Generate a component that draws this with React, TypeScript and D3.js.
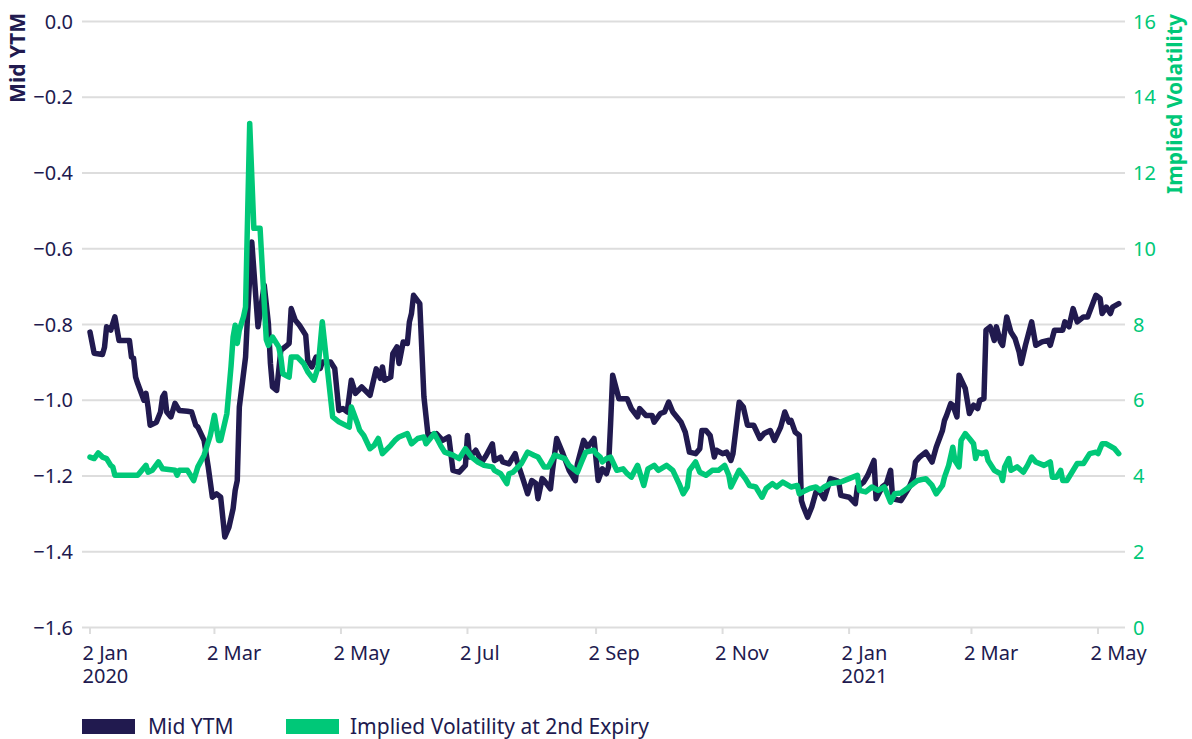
import React from 'react'
import * as d3 from 'd3'

// dates are kept as day counts from 2 Jan 2020
const START = new Date(2020, 0, 2)

const ytmDays = [
  0, 2, 6, 7, 8, 10, 12, 14, 19, 20, 21, 22, 23, 26, 27, 28, 29, 32, 34, 35, 36, 37, 39, 41, 43, 47, 49, 51, 52, 55,
  57, 59, 61, 63, 65, 67, 69, 70, 71, 72, 75, 76, 78, 81, 84, 86, 87, 88, 90, 91, 92, 95, 96, 97, 99, 101, 104, 105,
  107, 109, 111, 112, 116, 118, 120, 122, 124, 126, 128, 131, 135, 138, 140, 141, 142, 145, 146, 148, 149, 151, 153,
  154, 155, 156, 159, 161, 163, 167, 170, 173, 175, 178, 181, 182, 183, 186, 189, 191, 194, 195, 198, 199, 202, 205,
  206, 209, 211, 213, 215, 216, 218, 219, 222, 223, 225, 228, 231, 234, 235, 238, 240, 243, 245, 247, 249, 250, 251,
  252, 255, 259, 261, 264, 265, 268, 271, 272, 275, 277, 279, 281, 285, 287, 289, 292, 294, 295, 297, 299, 301, 302,
  305, 307, 309, 310, 313, 315, 317, 320, 323, 325, 328, 330, 333, 335, 337, 338, 340, 342, 343, 344, 346, 348, 350,
  352, 354, 357, 360, 361, 362, 366, 369, 370, 373, 375, 378, 379, 382, 384, 386, 387, 391, 392, 395, 397, 398, 400,
  403, 406, 408, 411, 412, 413, 415, 416, 418, 419, 422, 424, 426, 428, 429, 431, 432, 434, 436, 437, 439, 440, 442,
  444, 446, 448, 449, 451, 454, 456, 459, 462, 463, 465, 469, 470, 472, 474, 476, 479, 481, 485, 487, 488, 490, 492,
  493, 496,
]
const ytmValues = [
  -0.82, -0.876, -0.879, -0.86, -0.806, -0.815, -0.78, -0.842, -0.842, -0.886, -0.889, -0.939, -0.956, -1.0, -0.982,
  -1.018, -1.066, -1.058, -1.031, -0.991, -0.982, -1.031, -1.044, -1.008, -1.027, -1.029, -1.031, -1.066, -1.071,
  -1.106, -1.176, -1.256, -1.247, -1.256, -1.361, -1.335, -1.286, -1.238, -1.212, -1.018, -0.886, -0.771, -0.582,
  -0.806, -0.696, -0.797, -0.903, -0.965, -0.974, -0.921, -0.868, -0.855, -0.85, -0.758, -0.789, -0.802, -0.828,
  -0.895, -0.912, -0.886, -0.916, -0.899, -0.899, -0.916, -1.027, -1.022, -1.031, -0.947, -0.982, -0.965, -0.987,
  -0.917, -0.942, -0.912, -0.947, -0.939, -0.877, -0.859, -0.903, -0.846, -0.85, -0.793, -0.771, -0.723, -0.745,
  -0.991, -1.093, -1.088, -1.106, -1.097, -1.185, -1.19, -1.172, -1.093, -1.15, -1.132, -1.163, -1.146, -1.115,
  -1.159, -1.15, -1.163, -1.168, -1.141, -1.163, -1.212, -1.247, -1.212, -1.22, -1.26, -1.207, -1.212, -1.234,
  -1.185, -1.101, -1.141, -1.185, -1.212, -1.168, -1.106, -1.124, -1.101, -1.212, -1.181, -1.194, -1.176, -1.062,
  -0.934, -0.996, -0.996, -1.022, -1.044, -1.022, -1.04, -1.04, -1.058, -1.035, -1.031, -1.005, -1.031, -1.058,
  -1.084, -1.137, -1.141, -1.128, -1.08, -1.08, -1.093, -1.15, -1.132, -1.141, -1.137, -1.159, -1.141, -1.005,
  -1.018, -1.066, -1.066, -1.101, -1.088, -1.08, -1.106, -1.071, -1.031, -1.058, -1.053, -1.084, -1.093, -1.265,
  -1.282, -1.309, -1.282, -1.243, -1.243, -1.26, -1.207, -1.212, -1.216, -1.251, -1.256, -1.273, -1.229, -1.216,
  -1.198, -1.159, -1.26, -1.229, -1.22, -1.185, -1.26, -1.265, -1.256, -1.229, -1.203, -1.163, -1.15, -1.137,
  -1.163, -1.124, -1.08, -1.053, -1.04, -1.009, -1.013, -1.044, -0.934, -0.969, -1.035, -1.013, -1.022, -1.0,
  -0.996, -0.815, -0.806, -0.842, -0.806, -0.846, -0.855, -0.78, -0.82, -0.837, -0.873, -0.903, -0.855, -0.793,
  -0.855, -0.846, -0.842, -0.855, -0.815, -0.815, -0.793, -0.806, -0.758, -0.793, -0.78, -0.78, -0.723, -0.731,
  -0.771, -0.754, -0.771, -0.754, -0.745,
]

const volDays = [
  0, 2, 4, 6, 8, 10, 11, 12, 23, 27, 28, 30, 33, 35, 41, 42, 43, 47, 50, 52, 55, 58, 60, 62, 63, 66, 68, 69, 70, 71,
  72, 74, 75, 77, 79, 82, 85, 86, 88, 91, 92, 93, 96, 97, 100, 103, 105, 108, 110, 112, 114, 117, 120, 125, 126, 129,
  130, 132, 135, 137, 139, 141, 145, 147, 149, 153, 155, 158, 161, 162, 166, 169, 171, 175, 178, 181, 184, 187, 190,
  194, 195, 198, 201, 202, 204, 208, 211, 214, 216, 219, 221, 224, 227, 229, 231, 235, 237, 239, 243, 244, 246, 247,
  249, 251, 254, 257, 259, 261, 264, 267, 269, 272, 274, 278, 281, 284, 286, 288, 289, 292, 294, 297, 300, 303, 306,
  308, 309, 313, 316, 318, 321, 324, 326, 329, 331, 334, 338, 341, 342, 345, 347, 350, 352, 354, 357, 362, 366, 370,
  371, 374, 377, 380, 383, 386, 388, 391, 394, 397, 399, 403, 406, 408, 411, 412, 414, 416, 417, 419, 420, 422, 424,
  426, 427, 428, 430, 432, 433, 436, 439, 440, 441, 443, 444, 447, 450, 452, 454, 456, 460, 463, 464, 466, 468, 469,
  471, 473, 476, 479, 482, 485, 486, 488, 490, 494, 496,
]
const volValues = [
  4.5, 4.46, 4.61, 4.5, 4.46, 4.28, 4.24, 4.02, 4.02, 4.28, 4.1, 4.15, 4.37, 4.19, 4.15, 4.02, 4.15, 4.15, 3.88, 4.24,
  4.55, 5.07, 5.6, 4.94, 4.94, 5.65, 6.9, 7.67, 7.98, 7.5, 7.85, 8.2, 8.46, 13.31, 10.54, 10.54, 7.6, 7.45, 7.67,
  7.41, 7.14, 6.7, 6.61, 7.14, 7.14, 6.97, 6.75, 6.53, 6.88, 8.07, 7.06, 5.56, 5.43, 5.29, 5.82, 5.38, 5.21, 5.07,
  4.72, 4.81, 4.99, 4.59, 4.81, 4.94, 5.03, 5.12, 4.85, 4.99, 5.03, 4.85, 5.12, 4.81, 4.63, 4.55, 4.46, 4.72, 4.5,
  4.37, 4.28, 4.24, 4.15, 4.06, 3.8, 4.06, 4.1, 4.33, 4.63, 4.55, 4.5, 4.24, 4.24, 4.55, 4.5, 4.46, 4.28, 4.1, 4.37,
  4.63, 4.68, 4.59, 4.5, 4.37, 4.46, 4.5, 4.15, 4.19, 4.06, 3.97, 4.28, 3.75, 4.19, 4.28, 4.15, 4.28, 4.15, 3.8,
  3.53, 3.71, 4.15, 4.37, 4.1, 4.02, 4.15, 4.15, 4.28, 4.02, 3.71, 4.15, 3.93, 3.75, 3.71, 3.44, 3.67, 3.8, 3.71,
  3.84, 3.71, 3.75, 3.53, 3.62, 3.67, 3.71, 3.62, 3.71, 3.8, 3.84, 3.93, 4.02, 3.62, 3.58, 3.71, 3.62, 3.71, 3.31,
  3.53, 3.55, 3.67, 3.8, 3.88, 3.93, 3.75, 3.53, 3.75, 3.97, 4.28, 4.76, 4.41, 4.24, 4.94, 5.12, 4.99, 4.85, 4.46,
  4.63, 4.59, 4.63, 4.41, 4.15, 4.06, 3.88, 4.24, 4.46, 4.15, 4.24, 4.1, 4.28, 4.5, 4.37, 4.28, 4.37, 3.97, 3.97,
  4.15, 3.88, 3.88, 4.06, 4.33, 4.33, 4.59, 4.63, 4.59, 4.85, 4.85, 4.72, 4.59,
]

const xTickDates = [
  '2020-01-02', '2020-03-02', '2020-05-02', '2020-07-02', '2020-09-02',
  '2020-11-02', '2021-01-02', '2021-03-02', '2021-05-02',
]
const yLeftTicks = [0, -0.2, -0.4, -0.6, -0.8, -1.0, -1.2, -1.4, -1.6]
const yRightTicks = [0, 2, 4, 6, 8, 10, 12, 14, 16]

const NAVY = '#211a4f'
const GREEN = '#00c878'
const GRID = '#dddddd'
const FONT = '"Noto Sans", "Open Sans", sans-serif'

const parse = d3.timeParse('%Y-%m-%d')

export default function App() {
  const width = 1192
  const height = 739
  const gridLeft = 82
  const gridRight = 1125

  const x = d3.scaleTime()
    .domain([parse('2020-01-02'), parse('2021-05-02')])
    .range([90, 1098])
  const yLeft = d3.scaleLinear().domain([-1.6, 0]).range([627.5, 21.5])
  const yRight = d3.scaleLinear().domain([0, 16]).range([627.5, 21.5])

  const ytm = ytmDays.map((d, i) => ({ date: d3.timeDay.offset(START, d), value: ytmValues[i] }))
  const vol = volDays.map((d, i) => ({ date: d3.timeDay.offset(START, d), value: volValues[i] }))

  const ytmLine = d3.line<any>().x(d => x(d.date)).y(d => yLeft(d.value))
  const volLine = d3.line<any>().x(d => x(d.date)).y(d => yRight(d.value))

  const fmtLeft = d3.format('.1f')
  const fmtDay = d3.timeFormat('%-d %b')
  const fmtYear = d3.timeFormat('%Y')

  return (
    <>
      <style>{'body{margin:0}'}</style>
      <svg width={width} height={height} style={{ display: 'block', fontFamily: FONT }}>
        {yLeftTicks.map(t => (
          <line key={'g' + t} x1={gridLeft} x2={gridRight} y1={yLeft(t)} y2={yLeft(t)}
            stroke={GRID} strokeWidth={2} />
        ))}
        {yLeftTicks.map(t => (
          <text key={'l' + t} x={73} y={yLeft(t)} dy="0.35em" textAnchor="end"
            fontSize={20} fill={NAVY}>{fmtLeft(t)}</text>
        ))}
        {yRightTicks.map(t => (
          <text key={'r' + t} x={1133} y={yRight(t)} dy="0.35em" textAnchor="start"
            fontSize={20} fill={GREEN}>{t}</text>
        ))}
        {xTickDates.map(s => {
          const d = parse(s)
          const px = x(d)
          return (
            <g key={s}>
              <line x1={px} x2={px} y1={628} y2={634} stroke={GRID} strokeWidth={2} />
              {d.getMonth() === 0 ? (
                <text x={px - 7.5} y={660} fontSize={20} fill={NAVY}>
                  <tspan x={px - 7.5}>{fmtDay(d)}</tspan>
                  <tspan x={px - 7.5} dy={23}>{fmtYear(d)}</tspan>
                </text>
              ) : (
                <text x={px - 7.5} y={660} fontSize={20} fill={NAVY}>{fmtDay(d)}</text>
              )}
            </g>
          )
        })}

        <text transform="translate(25,13) rotate(-90)" textAnchor="end" fontSize={21}
          fontWeight="bold" fill={NAVY}>Mid YTM</text>
        <text transform="translate(1182,14) rotate(-90)" textAnchor="end" fontSize={21}
          fontWeight="bold" fill={GREEN}>Implied Volatility</text>

        <path d={ytmLine(ytm)} fill="none" stroke={NAVY} strokeWidth={5.5}
          strokeLinejoin="round" strokeLinecap="round" />
        <path d={volLine(vol)} fill="none" stroke={GREEN} strokeWidth={5.5}
          strokeLinejoin="round" strokeLinecap="round" />

        <rect x={82} y={719} width={53} height={15} fill={NAVY} />
        <text x={148} y={734} fontSize={21} fill={NAVY}>Mid YTM</text>
        <rect x={286} y={719} width={53} height={15} fill={GREEN} />
        <text x={350} y={734} fontSize={21} fill={NAVY}>Implied Volatility at 2nd Expiry</text>
      </svg>
    </>
  )
}
